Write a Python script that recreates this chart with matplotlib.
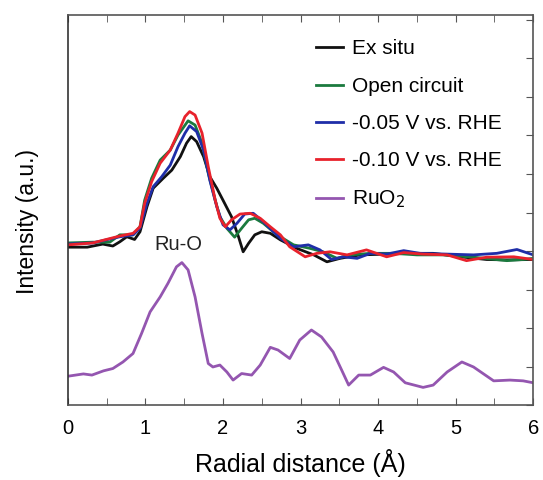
import matplotlib.pyplot as plt
from matplotlib.ticker import MultipleLocator

plt.rcParams['font.family'] = ['Liberation Sans', 'DejaVu Sans']

# Ex situ
x_ex = [0.00, 0.25, 0.45, 0.58, 0.67, 0.76, 0.86, 0.93, 1.02, 1.10, 1.23, 1.34, 1.45, 1.53,
        1.59, 1.66, 1.75, 1.83, 1.92, 2.00, 2.11, 2.20, 2.26, 2.33, 2.41, 2.50, 2.61, 2.74,
        2.95, 3.17, 3.34, 3.51, 3.77, 4.11, 4.41, 4.71, 5.06, 5.40, 5.66, 6.00]
y_ex = [4.10, 4.10, 4.18, 4.13, 4.24, 4.37, 4.30, 4.50, 5.15, 5.63, 5.89, 6.10, 6.45, 6.80,
        6.97, 6.84, 6.45, 5.93, 5.63, 5.32, 4.89, 4.37, 3.98, 4.20, 4.42, 4.50, 4.46, 4.29,
        4.07, 3.90, 3.72, 3.81, 3.90, 3.92, 3.94, 3.94, 3.85, 3.78, 3.77, 3.78]

# Open circuit
x_oc = [0.00, 0.32, 0.54, 0.67, 0.84, 0.93, 0.99, 1.08, 1.19, 1.32, 1.42, 1.55, 1.64, 1.73,
        1.81, 1.90, 1.96, 2.05, 2.15, 2.24, 2.33, 2.41, 2.52, 2.65, 2.74, 2.91, 3.12, 3.29,
        3.47, 3.64, 3.90, 4.20, 4.50, 4.84, 5.23, 5.66, 5.87, 6.00]
y_oc = [4.21, 4.23, 4.23, 4.42, 4.42, 4.63, 5.32, 5.89, 6.36, 6.62, 7.01, 7.38, 7.27, 6.80,
        6.02, 5.32, 4.89, 4.59, 4.36, 4.59, 4.81, 4.85, 4.72, 4.50, 4.37, 4.16, 4.07, 3.98,
        3.81, 3.90, 3.94, 3.94, 3.90, 3.90, 3.84, 3.75, 3.78, 3.81]

# -0.05 V vs. RHE
x_05 = [0.00, 0.32, 0.67, 0.84, 0.93, 1.02, 1.10, 1.21, 1.32, 1.42, 1.51, 1.57, 1.66, 1.75,
        1.83, 1.92, 2.00, 2.09, 2.18, 2.28, 2.39, 2.52, 2.65, 2.74, 2.91, 3.10, 3.25, 3.40,
        3.55, 3.73, 3.90, 4.11, 4.33, 4.54, 4.89, 5.23, 5.53, 5.79, 6.00]
y_05 = [4.18, 4.21, 4.37, 4.42, 4.59, 5.24, 5.67, 5.93, 6.23, 6.71, 7.06, 7.25, 7.10, 6.62,
        5.84, 5.15, 4.68, 4.55, 4.72, 4.96, 4.98, 4.76, 4.50, 4.33, 4.11, 4.16, 4.03, 3.78,
        3.85, 3.81, 3.94, 3.92, 4.01, 3.94, 3.92, 3.90, 3.94, 4.04, 3.90]

# -0.10 V vs. RHE
x_10 = [0.00, 0.32, 0.67, 0.84, 0.93, 0.99, 1.08, 1.19, 1.32, 1.42, 1.51, 1.57, 1.64, 1.73,
        1.81, 1.90, 1.96, 2.03, 2.11, 2.22, 2.35, 2.48, 2.61, 2.74, 2.86, 3.06, 3.21, 3.38,
        3.60, 3.85, 4.11, 4.33, 4.58, 4.89, 5.14, 5.40, 5.75, 6.00]
y_10 = [4.16, 4.21, 4.39, 4.46, 4.63, 5.24, 5.80, 6.28, 6.62, 7.06, 7.49, 7.62, 7.53, 7.06,
        6.19, 5.32, 4.85, 4.63, 4.81, 4.96, 4.98, 4.85, 4.63, 4.42, 4.11, 3.85, 3.94, 3.98,
        3.90, 4.03, 3.85, 3.96, 3.92, 3.90, 3.75, 3.84, 3.85, 3.78]

# RuO2 reference
x_ru = [0.00, 0.20, 0.31, 0.46, 0.58, 0.71, 0.84, 0.95, 1.06, 1.19, 1.29, 1.40, 1.47, 1.55,
        1.64, 1.73, 1.81, 1.87, 1.96, 2.05, 2.13, 2.24, 2.37, 2.48, 2.61, 2.71, 2.86, 2.99,
        3.14, 3.27, 3.42, 3.53, 3.62, 3.75, 3.90, 4.07, 4.20, 4.35, 4.58, 4.71, 4.89, 5.08,
        5.23, 5.49, 5.70, 5.87, 6.00]
y_ru = [0.75, 0.81, 0.78, 0.89, 0.95, 1.12, 1.34, 1.86, 2.42, 2.81, 3.16, 3.59, 3.70, 3.51,
        2.81, 1.86, 1.08, 0.99, 1.04, 0.86, 0.65, 0.82, 0.78, 1.04, 1.50, 1.43, 1.21, 1.69,
        1.95, 1.77, 1.38, 0.91, 0.52, 0.78, 0.78, 0.98, 0.86, 0.58, 0.46, 0.52, 0.86, 1.12,
        0.99, 0.63, 0.65, 0.63, 0.58]

fig = plt.figure(figsize=(5.43, 4.8), dpi=100)
ax = fig.add_axes([0.125, 0.156, 0.857, 0.813])

lw = 2.0
ax.plot(x_ex, y_ex, color='#111111', lw=lw, label='Ex situ')
ax.plot(x_oc, y_oc, color='#1b7a3e', lw=lw, label='Open circuit')
ax.plot(x_05, y_05, color='#1f2ea8', lw=lw, label='-0.05 V vs. RHE')
ax.plot(x_10, y_10, color='#e8222c', lw=lw, label='-0.10 V vs. RHE')
ax.plot(x_ru, y_ru, color='#9456b0', lw=lw, label='RuO$_2$')

ax.text(1.42, 4.16, 'Ru-O', fontsize=14.5, ha='center', va='center', color='#222222')

ax.set_xlim(0, 6)
ax.set_ylim(0, 10.13)
ax.xaxis.set_major_locator(MultipleLocator(1))
ax.xaxis.set_minor_locator(MultipleLocator(0.5))
ax.yaxis.set_major_locator(MultipleLocator(1))
ax.tick_params(axis='x', which='both', direction='in', top=True, length=5,
               labelsize=14.5, color='#555555', pad=10)
ax.tick_params(axis='y', which='both', direction='in', left=False, right=True,
               labelleft=False, length=5, color='#555555')
for s in ax.spines.values():
    s.set_color('#555555')
    s.set_linewidth(1.2)
ax.spines['left'].set_color('#333333')

ax.set_xlabel('Radial distance (Å)', fontsize=18, labelpad=8)
ax.set_ylabel('Intensity (a.u.)', fontsize=16.5)
ax.yaxis.set_label_coords(-0.061, 0.47)

ax.legend(loc='upper right', frameon=False, fontsize=15, handlelength=1.3,
          handletextpad=0.4, labelspacing=0.88, bbox_to_anchor=(0.972, 0.985))

fig.savefig('out.png', dpi=100)
